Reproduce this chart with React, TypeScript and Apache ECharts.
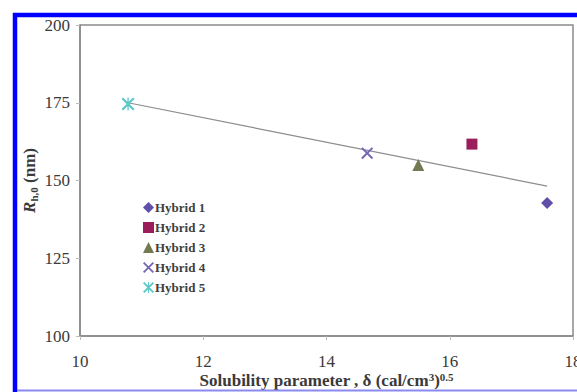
import React, { useEffect, useRef } from "react";
import * as echarts from "echarts";

const seriesNames = ["Hybrid 1", "Hybrid 2", "Hybrid 3", "Hybrid 4", "Hybrid 5"];
const solubility = [17.58, 16.36, 15.49, 14.66, 10.78];
const radius = [142.8, 161.7, 155.0, 158.8, 174.6];
const trendX = [10.78, 17.58];
const trendY = [175.0, 148.2];
const xTicks = [10, 12, 14, 16, 18];
const yTicks = [100, 125, 150, 175, 200];

const colors = ["#5f4fa8", "#9c1d5c", "#737a52", "#7667b4", "#5cc8c8"];
const X_PATH = "path://M0,1.2 L1.2,0 L10,8.8 L8.8,10 Z M8.8,0 L10,1.2 L1.2,10 L0,8.8 Z";
const STAR_PATH =
  "path://M0,1.2 L1.2,0 L10,8.8 L8.8,10 Z M8.8,0 L10,1.2 L1.2,10 L0,8.8 Z M4.5,0 L5.5,0 L5.5,10 L4.5,10 Z";
const symbols = ["diamond", "rect", "triangle", X_PATH, STAR_PATH];
const sizes = [12, 11, 12, 12, 13];

const FONT = "Liberation Serif";

export default function App() {
  const ref = useRef<HTMLDivElement>(null);
  useEffect(() => {
    if (!ref.current) return;
    const chart = echarts.init(ref.current, undefined, { renderer: "svg" });
    const scatter = seriesNames.map((name, i) => ({
      name,
      type: "scatter",
      data: [[solubility[i], radius[i]]],
      symbol: symbols[i],
      symbolSize: sizes[i],
      itemStyle: { color: colors[i], opacity: 1 },
      z: 3,
    }));
    chart.setOption({
      animation: false,
      backgroundColor: "#ffffff",
      grid: {
        left: 80,
        top: 25,
        width: 493,
        height: 311,
        show: true,
        borderColor: "#8a8a8a",
        borderWidth: 1.5,
        outerBoundsMode: "none",
        containLabel: false,
      },
      legend: {
        orient: "vertical",
        left: 138,
        top: 196,
        itemGap: 7,
        itemWidth: 11,
        itemHeight: 11,
        data: seriesNames,
        textStyle: { fontFamily: FONT, fontSize: 13, fontWeight: "bold", color: "#404040", padding: [0, 0, 0, -4] },
      },
      xAxis: {
        type: "value",
        min: xTicks[0],
        max: xTicks[xTicks.length - 1],
        interval: 2,
        splitLine: { show: false },
        axisLine: { lineStyle: { color: "#8a8a8a", width: 1.5 } },
        axisTick: { length: 4, lineStyle: { color: "#bbbbbb" } },
        axisLabel: { margin: 16, fontFamily: FONT, fontSize: 17, lineHeight: 18, color: "#3a3a3a" },
        name: "{b|Solubility parameter , δ (cal/cm}{sup|3}{b|)}{sup|0.5}",
        nameLocation: "middle",
        nameGap: 35,
        nameMoveOverlap: false,
        nameTextStyle: {
          rich: {
            b: { fontFamily: FONT, fontSize: 17, fontWeight: "bold", color: "#3a3a3a", lineHeight: 18 },
            sup: { fontFamily: FONT, fontSize: 11, fontWeight: "bold", color: "#3a3a3a", verticalAlign: "top", lineHeight: 18 },
          },
        },
      },
      yAxis: {
        type: "value",
        min: yTicks[0],
        max: yTicks[yTicks.length - 1],
        interval: 25,
        splitLine: { show: false },
        axisLine: { lineStyle: { color: "#8a8a8a", width: 1.5 } },
        axisTick: { length: 4, lineStyle: { color: "#bbbbbb" } },
        axisLabel: { margin: 10, fontFamily: FONT, fontSize: 17, color: "#3a3a3a" },
        name: "{i|R}{sub|h,0}{b| (nm)}",
        nameLocation: "middle",
        nameGap: 41,
        nameMoveOverlap: false,
        nameTextStyle: {
          rich: {
            i: { fontFamily: FONT, fontSize: 17, fontWeight: "bold", fontStyle: "italic", color: "#3a3a3a", lineHeight: 20 },
            sub: { fontFamily: FONT, fontSize: 11, fontWeight: "bold", color: "#3a3a3a", verticalAlign: "bottom", lineHeight: 20 },
            b: { fontFamily: FONT, fontSize: 17, fontWeight: "bold", color: "#3a3a3a", lineHeight: 20 },
          },
        },
      },
      series: [
        {
          name: "trend",
          type: "line",
          data: trendX.map((x, i) => [x, trendY[i]]),
          symbol: "none",
          lineStyle: { color: "#8c8c8c", width: 1.2 },
          z: 2,
        },
        ...scatter,
      ],
      graphic: [
        { type: "line", shape: { x1: 15, y1: 13, x2: 15, y2: 392 }, style: { stroke: "#0000ff", lineWidth: 4.5 }, z: 10 },
        { type: "line", shape: { x1: 13, y1: 15, x2: 577, y2: 15 }, style: { stroke: "#0000ff", lineWidth: 4.5 }, z: 10 },
        { type: "line", shape: { x1: 17, y1: 390.5, x2: 577, y2: 390.5 }, style: { stroke: "#8a8af0", lineWidth: 2 }, z: 10 },
      ],
    });
    return () => chart.dispose();
  }, []);
  return (
    <div
      ref={ref}
      style={{ position: "absolute", left: 0, top: 0, width: 577, height: 392, background: "#fff" }}
    />
  );
}
